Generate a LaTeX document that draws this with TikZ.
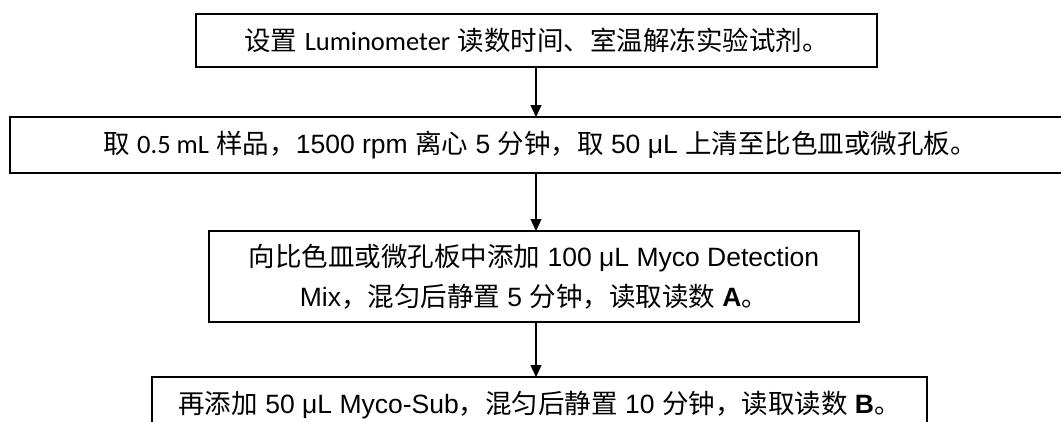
\documentclass[tikz,border=0pt]{standalone}
\usepackage{fontspec}
\setmainfont{Liberation Sans}
\newfontfamily\cjk{Noto Sans CJK SC}
\newfontfamily\calibri{Carlito}
\usepackage{tikz}
\usetikzlibrary{arrows.meta}
\tikzset{>={Triangle[width=11pt,length=12pt]}}
\tikzset{stepbox/.style={draw=black, line width=1.6pt, inner sep=0pt, outer sep=0pt, align=center, font=\fontsize{26.5}{40}\selectfont}}
\newcommand{\zh}[1]{{\cjk #1}}

\begin{document}
\begin{tikzpicture}[x=1pt, y=1pt]
    \clip (0,0) rectangle (1061,-421);
    \node[stepbox, minimum width=681pt, minimum height=53pt] (set) at (536.5,-40.5) {\zh{设置} {\calibri Luminometer} \zh{读数时间、室温解冻实验试剂。}};
    \node[stepbox, minimum width=1060pt, minimum height=56pt] (spin) at (540,-145) {\zh{取} {\calibri 0.5 mL} \zh{样品，}1500 rpm \zh{离心} 5 \zh{分钟，取} 50 μL \zh{上清至比色皿或微孔板。}};
    \node[stepbox, minimum width=650pt, minimum height=91pt] (mix) at (534,-276.5) {\zh{向比色皿或微孔板中添加} 100 μL Myco Detection\\Mix\zh{，混匀后静置} 5 \zh{分钟，读取读数} \textbf{A}\zh{。}};
    \node[stepbox, minimum width=775pt, minimum height=56pt] (sub) at (539.5,-405) {\zh{再添加} 50 μL Myco-Sub\zh{，混匀后静置} 10 \zh{分钟，读取读数} \textbf{B}\zh{。}};
    \draw[->, line width=1.2pt] (set.south -| 536,0) -- (spin.north -| 536,0);
    \draw[->, line width=1.2pt] (spin.south -| 536,0) -- (mix.north -| 536,0);
    \draw[->, line width=1.2pt] (mix.south -| 536,0) -- (sub.north -| 536,0);
\end{tikzpicture}
\end{document}
